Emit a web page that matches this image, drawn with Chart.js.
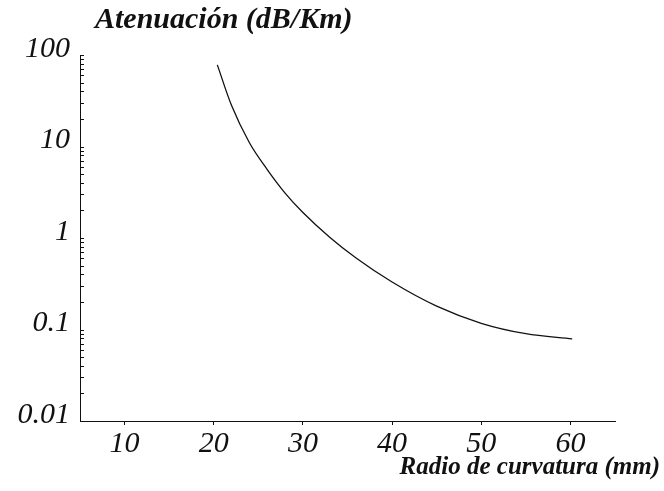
<!DOCTYPE html>
<html>
<head>
<meta charset="utf-8">
<script src="https://cdn.jsdelivr.net/npm/chart.js@4/dist/chart.umd.min.js"></script>
<style>
  html, body { margin: 0; padding: 0; background: #fff; }
  #wrap { width: 664px; height: 491px; }
</style>
</head>
<body>
<div id="wrap"><canvas id="chartAtenuacion" width="664" height="491"></canvas></div>
<script>
// datos
const radio = [20.4, 22, 24, 26, 28, 30, 33, 36, 40, 45, 50, 55, 60.2];
const atenuacion = [78, 28, 11, 5.6, 3.1, 1.9, 1.02, 0.6, 0.33, 0.18, 0.117, 0.09, 0.079];
const xTicks = [10, 20, 30, 40, 50, 60];
const yDecadas = [0.01, 0.1, 1, 10, 100];
const yEtiquetas = ["0.01", "0.1", "1", "10", "100"];

const tinta = "#111";
const fuenteEje = { family: "'Liberation Serif', serif", size: 30, style: "italic" };

// marcas menores del eje log (1..9 por decada)
const yMarcas = [];
yDecadas.forEach((d, i) => {
  if (i === yDecadas.length - 1) { yMarcas.push(d); return; }
  for (let m = 1; m <= 9; m++) yMarcas.push(d * m);
});

// marcas hacia dentro en el eje y + titulos
const extras = {
  id: "extras",
  afterDraw(chart) {
    const ctx = chart.ctx;
    const ys = chart.scales.y;
    const x0 = chart.chartArea.left;
    ctx.save();
    ctx.strokeStyle = tinta;
    ctx.lineWidth = 1;
    ys.ticks.forEach(t => {
      const py = Math.round(ys.getPixelForValue(t.value)) + 0.5;
      ctx.beginPath();
      ctx.moveTo(x0, py);
      ctx.lineTo(x0 + 4, py);
      ctx.stroke();
    });
    ctx.fillStyle = tinta;
    ctx.font = "italic bold 30px 'Liberation Serif'";
    ctx.textBaseline = "alphabetic";
    ctx.textAlign = "left";
    ctx.fillText("Atenuación (dB/Km)", 95, 28);
    ctx.font = "italic bold 25px 'Liberation Serif'";
    ctx.textAlign = "right";
    ctx.fillText("Radio de curvatura (mm)", 660, 474);
    ctx.restore();
  }
};

const ctx = document.getElementById("chartAtenuacion");

new Chart(ctx, {
  type: "line",
  data: {
    datasets: [{
      data: radio.map((r, i) => ({ x: r, y: atenuacion[i] })),
      borderColor: tinta,
      borderWidth: 1.3,
      pointRadius: 0,
      cubicInterpolationMode: "monotone",
      fill: false
    }]
  },
  options: {
    responsive: false,
    animation: false,
    layout: { padding: { top: 55, right: 49, bottom: 0, left: 0 } },
    plugins: {
      legend: { display: false },
      tooltip: { enabled: false }
    },
    scales: {
      x: {
        type: "linear",
        min: 5,
        max: 65,
        afterBuildTicks: s => { s.ticks = xTicks.map(v => ({ value: v })); },
        afterFit: s => { s.height = 70; },
        grid: { display: true, drawOnChartArea: false, drawTicks: true, tickLength: 4, tickColor: tinta },
        border: { display: true, color: tinta, width: 1 },
        ticks: { color: tinta, font: fuenteEje, padding: 1, maxRotation: 0, autoSkip: false }
      },
      y: {
        type: "logarithmic",
        min: 0.01,
        max: 100,
        afterBuildTicks: s => { s.ticks = yMarcas.map(v => ({ value: v })); },
        afterFit: s => { s.width = 80; },
        grid: { display: true, drawOnChartArea: false, drawTicks: false },
        border: { display: true, color: tinta, width: 1 },
        ticks: {
          color: tinta,
          font: fuenteEje,
          padding: 10,
          labelOffset: -6,
          autoSkip: false,
          callback: v => {
            const i = yDecadas.indexOf(v);
            return i >= 0 ? yEtiquetas[i] : "";
          }
        }
      }
    }
  },
  plugins: [extras]
});
</script>
</body>
</html>
